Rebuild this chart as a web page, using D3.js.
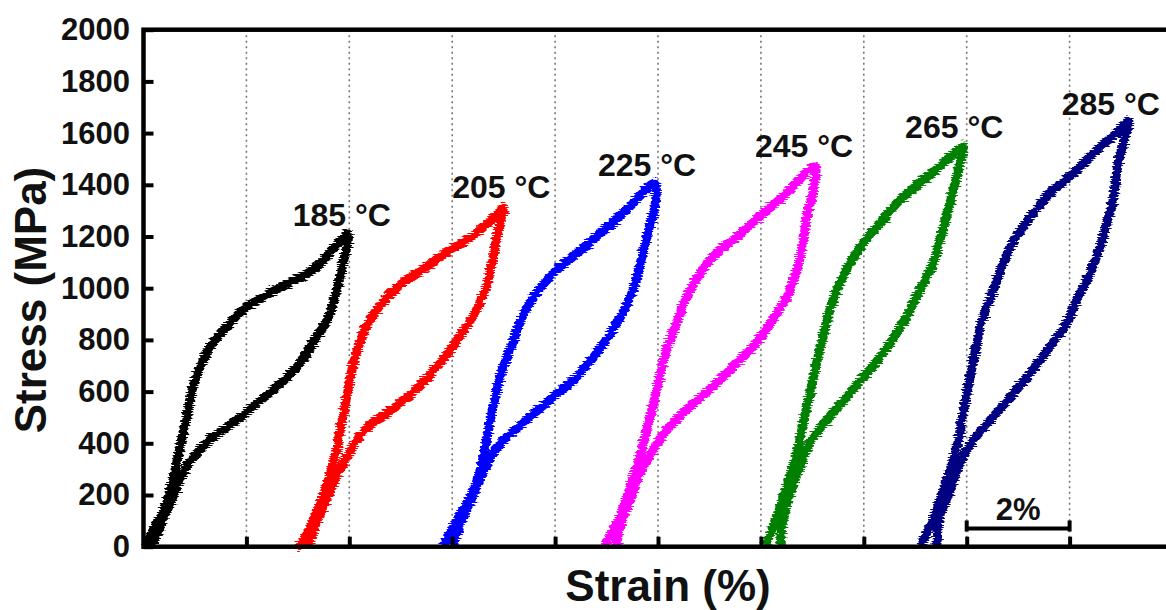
<!DOCTYPE html>
<html>
<head>
<meta charset="utf-8">
<script src="https://cdn.jsdelivr.net/npm/d3@7"></script>
<style>
  html, body { margin: 0; padding: 0; background: #fff; }
  svg { display: block; font-family: "Liberation Sans", Arial, sans-serif; font-weight: bold; }
</style>
</head>
<body>
<svg id="chart" width="1166" height="610"></svg>
<script>
// Test temperatures and loop colours
const temperatures = ["185 °C", "205 °C", "225 °C", "245 °C", "265 °C", "285 °C"];
const loopColors = ["#000000", "#ff0000", "#0000ff", "#ff00ff", "#008000", "#000080"];

// Axis ticks
const stressTicks = [0, 200, 400, 600, 800, 1000, 1200, 1400, 1600, 1800, 2000];
const strainGrid = [2, 4, 6, 8, 10, 12, 14, 16, 18];
const scaleBarText = "2%";

// Loading branches: [strain %, stress MPa]
const load185 = [[0.03,0],[0.24,84],[0.38,129],[0.57,257],[0.71,385],[0.85,517],[0.96,618],[1.10,695],[1.29,773],[1.62,850],[1.93,916],[2.32,966],[2.85,1021],[3.37,1082],[3.97,1210]];
const load205 = [[2.98,0],[3.07,13],[3.33,116],[3.53,219],[3.72,348],[3.85,477],[3.95,580],[4.05,684],[4.17,774],[4.37,864],[4.63,942],[4.95,1006],[5.41,1070],[5.86,1135],[6.38,1199],[6.90,1291],[6.99,1313]];
const load225 = [[5.82,0],[5.86,19],[6.12,110],[6.38,200],[6.57,316],[6.70,445],[6.83,574],[6.96,677],[7.16,780],[7.35,884],[7.61,974],[7.93,1051],[8.39,1129],[8.91,1219],[9.42,1309],[9.94,1406]];
const load245 = [[8.97,0],[9.00,13],[9.26,116],[9.46,232],[9.65,348],[9.78,451],[9.91,555],[10.04,658],[10.17,761],[10.36,864],[10.56,967],[10.82,1058],[11.14,1135],[11.53,1199],[11.98,1277],[12.50,1367],[13.05,1473]];
const load265 = [[12.08,0],[12.11,13],[12.31,116],[12.50,232],[12.70,361],[12.82,477],[12.95,593],[13.08,709],[13.21,813],[13.34,916],[13.54,1019],[13.73,1096],[13.99,1174],[14.31,1251],[14.70,1341],[15.16,1419],[15.61,1496],[15.93,1550]];
const load285 = [[15.11,0],[15.16,26],[15.42,142],[15.61,258],[15.81,387],[15.94,529],[16.07,658],[16.20,787],[16.32,890],[16.52,993],[16.71,1096],[16.97,1199],[17.29,1290],[17.68,1380],[18.07,1444],[18.53,1535],[18.98,1612],[19.15,1648]];

// Unloading branches: [strain %, stress MPa]
const unload185 = [[3.97,1210],[3.88,1097],[3.76,993],[3.57,877],[3.29,788],[2.98,695],[2.59,618],[2.21,556],[1.82,490],[1.35,424],[1.04,362],[0.77,285],[0.57,192],[0.38,103],[0.18,14],[0.13,0]];
const unload205 = [[6.99,1313],[6.90,1225],[6.77,1096],[6.64,993],[6.44,903],[6.18,826],[5.92,748],[5.60,671],[5.21,593],[4.82,529],[4.37,464],[4.11,400],[3.92,335],[3.72,258],[3.53,168],[3.33,77],[3.20,0]];
const unload225 = [[9.94,1406],[9.94,1322],[9.81,1219],[9.68,1116],[9.55,1012],[9.36,922],[9.10,832],[8.78,742],[8.39,651],[7.93,574],[7.48,497],[7.03,419],[6.77,355],[6.57,277],[6.38,187],[6.18,97],[6.01,0]];
const unload245 = [[13.05,1473],[13.02,1380],[12.89,1277],[12.82,1174],[12.70,1070],[12.50,967],[12.18,864],[11.85,774],[11.46,696],[11.07,619],[10.62,542],[10.17,451],[9.91,374],[9.65,284],[9.46,180],[9.26,77],[9.20,0]];
const unload265 = [[15.93,1550],[15.87,1483],[15.74,1380],[15.61,1277],[15.48,1186],[15.35,1096],[15.09,993],[14.83,890],[14.51,787],[14.12,684],[13.67,580],[13.28,490],[12.95,400],[12.76,309],[12.57,207],[12.44,116],[12.37,0]];
const unload285 = [[19.15,1648],[19.04,1561],[18.92,1457],[18.85,1354],[18.72,1251],[18.59,1161],[18.40,1058],[18.14,955],[17.94,864],[17.62,774],[17.29,684],[16.91,593],[16.52,503],[16.13,413],[15.87,322],[15.68,219],[15.48,116],[15.42,0]];

const loadings = [load185, load205, load225, load245, load265, load285];
const unloadings = [unload185, unload205, unload225, unload245, unload265, unload285];

// Label nudges (pixels) relative to each loop's peak
const labelNudge = [[-55, -8], [-51, -9], [-57, -7], [-60, -9], [-58, -8], [-67, -6]];

const svg = d3.select("#chart");
const plot = { left: 143.5, right: 1172.5, top: 29.7, bottom: 546.7 };

const x = d3.scaleLinear().domain([0, 20]).range([plot.left, plot.right]);
const y = d3.scaleLinear().domain([0, 2000]).range([plot.bottom, plot.top]);

// Roughened stroke to mimic noisy measured data
const defs = svg.append("defs");
const filt = defs.append("filter").attr("id", "rough")
  .attr("x", "-10%").attr("y", "-10%").attr("width", "120%").attr("height", "120%");
filt.append("feTurbulence").attr("type", "fractalNoise")
  .attr("baseFrequency", "0.04 0.9").attr("numOctaves", 2).attr("seed", 7).attr("result", "noise");
filt.append("feDisplacementMap").attr("in", "SourceGraphic").attr("in2", "noise")
  .attr("scale", 8).attr("xChannelSelector", "R").attr("yChannelSelector", "G");

// Dotted vertical grid
svg.append("g").selectAll("line").data(strainGrid).join("line")
  .attr("x1", d => x(d)).attr("x2", d => x(d))
  .attr("y1", plot.top).attr("y2", plot.bottom)
  .attr("stroke", "#777").attr("stroke-width", 1.6)
  .attr("stroke-dasharray", "2,3.5");

// Hysteresis loops
const line = d3.line().x(d => x(d[0])).y(d => y(d[1])).curve(d3.curveCatmullRom.alpha(0.5));
const loops = svg.append("g");
loadings.forEach((ld, i) => {
  const path = ld.concat(unloadings[i].slice(1));
  loops.append("path")
    .attr("d", line(path))
    .attr("fill", "none")
    .attr("stroke", loopColors[i])
    .attr("stroke-width", 9)
    .attr("stroke-linejoin", "round")
    .attr("filter", "url(#rough)");
});

// Temperature labels above each peak
svg.append("g").selectAll("text").data(temperatures).join("text")
  .attr("x", (d, i) => x(loadings[i][loadings[i].length - 1][0]) + labelNudge[i][0])
  .attr("y", (d, i) => y(loadings[i][loadings[i].length - 1][1]) + labelNudge[i][1])
  .attr("font-size", 32)
  .attr("fill", "#111")
  .text(d => d);

// Axes
const yAxis = d3.axisLeft(y).tickValues(stressTicks).tickFormat(d3.format("d"))
  .tickSize(-10).tickSizeOuter(0).tickPadding(13.5);
const gy = svg.append("g").attr("transform", `translate(${plot.left},0)`).call(yAxis);
gy.select(".domain").remove();
gy.selectAll(".tick line").attr("stroke", "#000").attr("stroke-width", 4);
gy.selectAll(".tick text").attr("font-size", 31).attr("font-family", "Liberation Sans, Arial, sans-serif")
  .attr("font-weight", "bold").attr("fill", "#111");

const xAxis = d3.axisBottom(x).tickValues(strainGrid).tickSize(-10).tickSizeOuter(0).tickFormat("");
const gx = svg.append("g").attr("transform", `translate(0,${plot.bottom})`).call(xAxis);
gx.select(".domain").remove();
gx.selectAll(".tick line").attr("stroke", "#000").attr("stroke-width", 4);

// Frame
svg.append("rect")
  .attr("x", plot.left).attr("y", plot.top)
  .attr("width", plot.right - plot.left).attr("height", plot.bottom - plot.top)
  .attr("fill", "none").attr("stroke", "#000").attr("stroke-width", 4.5);

// 2% scale bar
const barY = 528.5;
const sb = svg.append("g").attr("stroke", "#000").attr("stroke-width", 4);
sb.append("line").attr("x1", x(16)).attr("x2", x(18)).attr("y1", barY).attr("y2", barY);
sb.append("line").attr("x1", x(16)).attr("x2", x(16)).attr("y1", barY - 8).attr("y2", barY + 3);
sb.append("line").attr("x1", x(18)).attr("x2", x(18)).attr("y1", barY - 8).attr("y2", barY + 3);
svg.append("text").attr("x", x(17)).attr("y", 520).attr("text-anchor", "middle")
  .attr("font-size", 31).attr("fill", "#111").text(scaleBarText);

// Axis titles
svg.append("text")
  .attr("transform", "translate(46,300) rotate(-90)")
  .attr("text-anchor", "middle").attr("font-size", 44).attr("fill", "#111")
  .text("Stress (MPa)");
svg.append("text")
  .attr("x", 668).attr("y", 601).attr("text-anchor", "middle")
  .attr("font-size", 44).attr("fill", "#111")
  .text("Strain (%)");
</script>
</body>
</html>
